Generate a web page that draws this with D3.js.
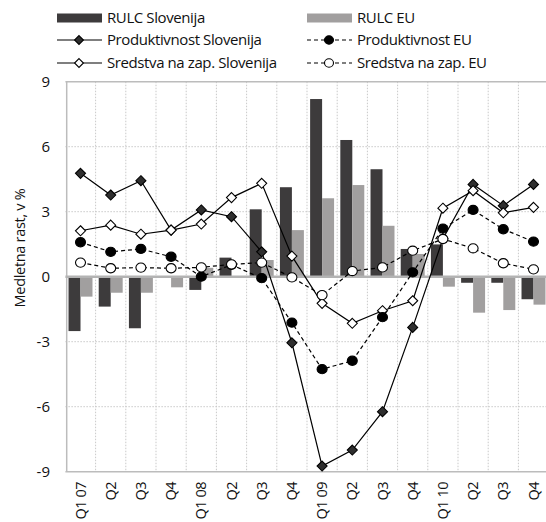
<!DOCTYPE html>
<html><head><meta charset="utf-8">
<script src="https://cdn.jsdelivr.net/npm/d3@7"></script>
<style>
html,body{margin:0;padding:0;background:#fff;}
svg{display:block;font-family:"Open Sans",sans-serif;}
</style></head>
<body>
<svg id="c" width="546" height="522"></svg>
<script>
const categories = ["Q1 07","Q2","Q3","Q4","Q1 08","Q2","Q3","Q4","Q1 09","Q2","Q3","Q4","Q1 10","Q2","Q3","Q4"];
const rulcSlo  = [-2.51,-1.38,-2.38,0.0,-0.61,0.88,3.11,4.13,8.2,6.31,4.96,1.28,1.49,-0.28,-0.28,-1.04];
const rulcEu   = [-0.92,-0.74,-0.74,-0.49,0.41,0.0,0.77,2.15,3.62,4.23,2.35,1.05,-0.46,-1.66,-1.54,-1.29];
const prodSlo  = [4.77,3.77,4.43,2.15,3.08,2.77,1.15,-3.05,-8.74,-8.0,-6.23,-2.34,1.75,4.26,3.28,4.26];
const sredSlo  = [2.12,2.38,1.96,2.15,2.43,3.65,4.31,0.95,-1.23,-2.15,-1.57,-1.11,3.16,3.97,2.95,3.2];
const prodEu   = [1.59,1.15,1.28,0.92,0.0,0.55,-0.07,-2.12,-4.27,-3.88,-1.87,0.2,2.22,3.08,2.19,1.62];
const sredEu   = [0.65,0.39,0.42,0.39,0.43,0.57,0.65,-0.03,-0.85,0.26,0.43,1.2,1.74,1.31,0.62,0.34];
const yTicks   = [-9,-6,-3,0,3,6,9];
const yLabel   = "Medletna rast, v %";
const legendItems = [
  {name:"RULC Slovenija", type:"bar", color:"#3d3b3c"},
  {name:"RULC EU", type:"bar", color:"#a19f9f"},
  {name:"Produktivnost Slovenija", type:"line", dash:null, shape:"diamond", fill:"#2e2e2e"},
  {name:"Produktivnost EU", type:"line", dash:"4,3", shape:"circle", fill:"#000"},
  {name:"Sredstva na zap. Slovenija", type:"line", dash:null, shape:"diamond", fill:"#fff"},
  {name:"Sredstva na zap. EU", type:"line", dash:"4,3", shape:"circle", fill:"#fff"}
];

const svg = d3.select("#c");
const idx = categories.map((d,i)=>i);
const x = d3.scaleBand().domain(idx).range([65.4, 548.6]).paddingInner(0).paddingOuter(0);
const xs = d3.scaleBand().domain(["slo","eu"]).range([0, x.bandwidth()]).paddingInner(0).paddingOuter(0.26);
const y = d3.scaleLinear().domain([-9, 9]).range([471.7, 81.7]);
const cx = i => x(i) + x.bandwidth()/2;

const gridC = "#c9c9c9", axisC = "#bcbcbc";
// grid
svg.append("g").selectAll("line").data(yTicks.filter(t=>t!==0 && t!==9 && t!==-9)).join("line")
  .attr("x1", x.range()[0]).attr("x2", x.range()[1]).attr("y1", d=>y(d)).attr("y2", d=>y(d))
  .attr("stroke", gridC).attr("stroke-width",1).attr("stroke-dasharray","1.5,1.5");
svg.append("g").selectAll("line").data(idx.slice(1)).join("line")
  .attr("x1", d=>x(d)).attr("x2", d=>x(d)).attr("y1", y(9)).attr("y2", y(-9))
  .attr("stroke", gridC).attr("stroke-width",1).attr("stroke-dasharray","1.5,1.5");
// border
svg.append("line").attr("x1",x.range()[0]).attr("x2",x.range()[1]).attr("y1",y(9)).attr("y2",y(9)).attr("stroke",axisC).attr("stroke-width",1.5);
svg.append("line").attr("x1",x.range()[0]).attr("x2",x.range()[1]).attr("y1",y(-9)).attr("y2",y(-9)).attr("stroke",axisC).attr("stroke-width",1.5);
svg.append("line").attr("x1",x.range()[0]+1.3).attr("x2",x.range()[0]+1.3).attr("y1",y(9)).attr("y2",y(-9)).attr("stroke",axisC).attr("stroke-width",1.5);

// bars
const bars = svg.append("g");
bars.selectAll("rect.s").data(rulcSlo).join("rect")
  .attr("x",(d,i)=>x(i)+xs("slo")).attr("width",xs.bandwidth())
  .attr("y",d=>y(Math.max(0,d))).attr("height",d=>Math.abs(y(d)-y(0)))
  .attr("fill","#3d3b3c");
bars.selectAll("rect.e").data(rulcEu).join("rect")
  .attr("x",(d,i)=>x(i)+xs("eu")).attr("width",xs.bandwidth())
  .attr("y",d=>y(Math.max(0,d))).attr("height",d=>Math.abs(y(d)-y(0)))
  .attr("fill","#a19f9f");

// zero line
svg.append("line").attr("x1",x.range()[0]).attr("x2",x.range()[1]).attr("y1",y(0)).attr("y2",y(0)).attr("stroke","#b3b3b3").attr("stroke-width",2.5);

const diamond = d3.symbol().type(d3.symbolDiamond2).size(64);
function series(data, dash, shape, fill){
  const g = svg.append("g");
  const line = d3.line().x((d,i)=>cx(i)).y(d=>y(d));
  g.append("path").attr("d", line(data)).attr("fill","none").attr("stroke","#000").attr("stroke-width",1.2)
    .attr("stroke-dasharray", dash);
  if (shape==="diamond"){
    g.selectAll("path.m").data(data).join("path").attr("class","m")
      .attr("d", diamond).attr("transform",(d,i)=>`translate(${cx(i)},${y(d)})`)
      .attr("fill",fill).attr("stroke","#000").attr("stroke-width",1.1);
  } else {
    g.selectAll("ellipse").data(data).join("ellipse")
      .attr("cx",(d,i)=>cx(i)).attr("cy",d=>y(d)).attr("rx",5).attr("ry",4.6)
      .attr("fill",fill).attr("stroke","#000").attr("stroke-width",1.1);
  }
}
series(prodSlo, null, "diamond", "#2e2e2e");
series(sredSlo, null, "diamond", "#fff");
series(prodEu, "4,3", "circle", "#000");
series(sredEu, "4,3", "circle", "#fff");

// y axis labels
svg.append("g").selectAll("text").data(yTicks).join("text")
  .attr("x",50).attr("y",d=>y(d)).attr("dy","0.35em").attr("text-anchor","end")
  .attr("font-size",15).attr("fill","#111").text(d=>d);
svg.append("text").attr("transform",`translate(25,248) rotate(-90)`).attr("text-anchor","middle")
  .attr("font-size",14.5).attr("letter-spacing","-0.3").attr("fill","#111").text(yLabel);
// x labels
svg.append("g").selectAll("text").data(categories).join("text")
  .attr("transform",(d,i)=>`translate(${cx(i)+5},482) rotate(-90)`).attr("text-anchor","end")
  .attr("font-size",14.5).attr("letter-spacing","-0.5").attr("fill","#111").text(d=>d);

// legend
const lg = svg.append("g");
const lx = [57, 307], ly = [18, 40, 63];
legendItems.forEach((it,k)=>{
  const gx = lx[k%2], gy = ly[Math.floor(k/2)];
  if (it.type==="bar"){
    lg.append("rect").attr("x",gx).attr("y",gy-4.5).attr("width",45).attr("height",9).attr("fill",it.color);
  } else {
    lg.append("line").attr("x1",gx).attr("x2",gx+45).attr("y1",gy).attr("y2",gy).attr("stroke","#000")
      .attr("stroke-width",1.2).attr("stroke-dasharray",it.dash);
    if (it.shape==="diamond"){
      lg.append("path").attr("d",d3.symbol().type(d3.symbolDiamond2).size(50)())
        .attr("transform",`translate(${gx+22},${gy})`).attr("fill",it.fill).attr("stroke","#000").attr("stroke-width",1.1);
    } else {
      lg.append("ellipse").attr("cx",gx+22).attr("cy",gy).attr("rx",4.5).attr("ry",4.2)
        .attr("fill",it.fill).attr("stroke","#000").attr("stroke-width",1.1);
    }
  }
  lg.append("text").attr("x",gx+50).attr("y",gy).attr("dy","0.35em").attr("font-size",15)
    .attr("letter-spacing","-0.4").attr("fill","#111").text(it.name);
});
</script>
</body></html>
